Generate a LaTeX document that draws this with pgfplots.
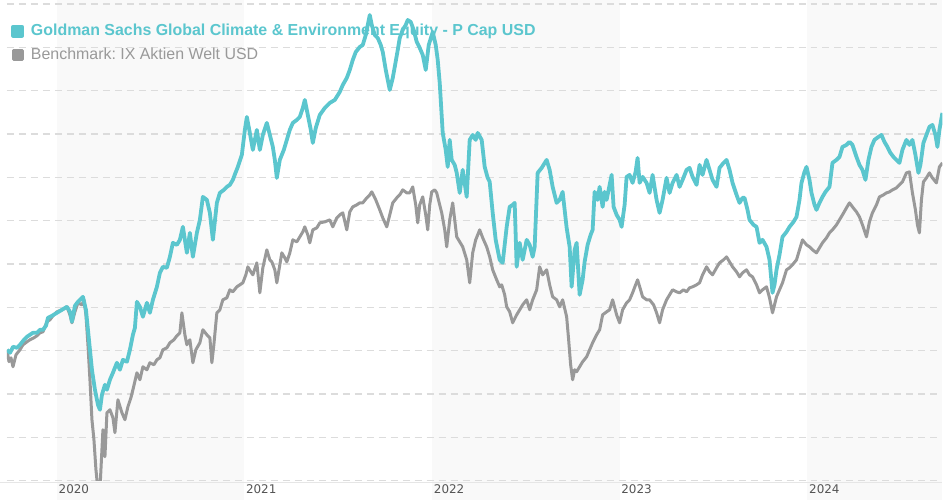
\documentclass[border=0pt]{standalone}
\usepackage{fontspec}
\setmainfont{Liberation Sans}
\newfontfamily\tickfont{DejaVu Sans}
\usepackage{pgfplots}
\pgfplotsset{compat=1.18}
\definecolor{teal1}{HTML}{5BC6CE}
\definecolor{gray1}{HTML}{999999}
\definecolor{band}{HTML}{F9F9F9}
\definecolor{gridc}{HTML}{DCDCDC}
\definecolor{basec}{HTML}{E6E6E6}
\definecolor{tickc}{HTML}{555555}
\begin{document}
\frenchspacing
\begin{tikzpicture}
\begin{axis}[
  name=ax, set layers,
  x=1bp, y=1bp,
  xmin=7, xmax=943, ymin=-481, ymax=-4,
  axis line style={draw=none},
  major tick length=0pt,
  xtick={57,244.5,432.5,620,808},
  xticklabels={\mbox{2020},\mbox{2021},\mbox{2022},\mbox{2023},\mbox{2024}},
  xticklabel style={anchor=north west, inner sep=0pt, xshift=1.5bp, yshift=-4bp, text=tickc, font={\tickfont\fontsize{12}{14}\selectfont}},
  ytick={-481,-437.64,-394.27,-350.91,-307.55,-264.18,-220.82,-177.45,-134.09,-90.73,-47.36,-4},
  yticklabels={},
  ymajorgrids,
  grid style={gridc, line width=1.2bp, dash pattern=on 7bp off 5bp},
  reverse legend,
  legend style={at={(axis description cs:0,1)}, anchor=north west, xshift=4bp, yshift=-19bp,
    draw=none, fill=none, inner sep=0pt, row sep=8bp,
    font={\fontsize{16}{16}\selectfont\frenchspacing},
    nodes={inner sep=0pt, text height=12bp, text depth=4bp},
    /tikz/every odd column/.append style={column sep=7bp}},
  legend cell align=left,
  legend image code/.code={\fill (0bp,-4.5bp) rectangle (9bp,4.5bp);},
]
% year bands
\addplot[draw=none, fill=band, on layer=axis background, forget plot] coordinates {(57,-500) (244.5,-500) (244.5,0) (57,0)} -- cycle;
\addplot[draw=none, fill=band, on layer=axis background, forget plot] coordinates {(432.5,-500) (620,-500) (620,0) (432.5,0)} -- cycle;
\addplot[draw=none, fill=band, on layer=axis background, forget plot] coordinates {(808,-500) (943,-500) (943,0) (808,0)} -- cycle;
% base line
\addplot[basec, line width=1.2bp, on layer=axis background, forget plot] coordinates {(0,-483) (943,-483)};

% benchmark
\addplot[gray1, line width=3bp, line join=round] coordinates {
(7,-350) (9,-362) (11,-358) (13,-367) (16,-355) (20,-350) (23,-345) (27,-342) (30,-340) (34,-338) (37,-336) (40,-333) (43,-332) (47,-322) (50,-320) (53,-316) (57,-312) (62,-310) (67,-307) (70,-315) (72,-323) (75,-312) (78,-303) (82,-305) (84,-300) (86,-315) (88,-345) (90,-380) (92,-420) (94,-440) (96,-470) (98,-490) (100,-490) (102,-450) (103,-430) (105,-457) (107,-413) (110,-410) (113,-418) (115,-433) (118,-400) (122,-413) (125,-420) (128,-407) (131,-398) (133,-390) (137,-373) (140,-380) (143,-367) (147,-370) (150,-363) (154,-365) (157,-360) (160,-358) (163,-350) (167,-348) (170,-343) (174,-340) (177,-336) (180,-333) (182,-313) (185,-335) (187,-345) (190,-340) (193,-363) (196,-350) (200,-343) (203,-330) (207,-335) (210,-338) (212,-363) (214,-345) (217,-313) (220,-310) (223,-300) (227,-298) (230,-290) (233,-292) (237,-287) (240,-285) (243,-283) (246,-275) (248,-267) (251,-272) (253,-275) (257,-263) (260,-293) (263,-268) (267,-250) (270,-260) (272,-262) (275,-270) (277,-283) (280,-265) (282,-253) (285,-258) (287,-262) (290,-253) (293,-240) (297,-242) (300,-237) (303,-232) (305,-227) (308,-235) (310,-243) (313,-230) (317,-228) (320,-223) (325,-222) (330,-220) (333,-227) (337,-218) (340,-215) (343,-213) (347,-230) (350,-212) (353,-207) (357,-205) (360,-203) (363,-203) (367,-198) (370,-195) (372,-192) (376,-200) (380,-210) (383,-218) (387,-227) (390,-215) (393,-203) (397,-198) (400,-195) (403,-190) (407,-193) (410,-193) (413,-187) (416,-205) (418,-223) (420,-205) (423,-197) (426,-215) (428,-230) (430,-205) (432,-192) (435,-190) (437,-193) (440,-205) (442,-213) (445,-230) (447,-247) (450,-220) (453,-203) (455,-220) (457,-237) (460,-242) (463,-247) (467,-260) (470,-283) (473,-253) (476,-240) (480,-230) (483,-238) (487,-247) (490,-257) (493,-270) (497,-280) (500,-287) (502,-285) (505,-295) (507,-307) (510,-312) (513,-323) (517,-315) (520,-310) (523,-305) (527,-300) (530,-310) (533,-300) (537,-290) (540,-267) (543,-275) (547,-270) (550,-285) (553,-297) (557,-300) (560,-307) (563,-300) (567,-317) (569,-340) (571,-365) (573,-380) (575,-370) (577,-372) (580,-367) (583,-362) (587,-357) (590,-350) (593,-343) (597,-335) (600,-330) (603,-315) (607,-312) (610,-310) (613,-300) (617,-315) (620,-323) (623,-310) (627,-303) (630,-300) (633,-293) (636,-285) (638,-280) (641,-290) (643,-297) (647,-300) (650,-300) (654,-305) (657,-313) (660,-323) (663,-310) (667,-300) (670,-295) (673,-290) (677,-292) (680,-293) (684,-290) (687,-292) (690,-288) (693,-287) (697,-285) (700,-283) (703,-275) (707,-267) (710,-272) (713,-275) (717,-268) (720,-263) (724,-260) (727,-257) (730,-262) (733,-267) (737,-272) (740,-277) (743,-273) (747,-270) (750,-275) (753,-277) (757,-285) (760,-293) (763,-290) (767,-287) (770,-298) (773,-313) (775,-305) (777,-297) (780,-290) (783,-283) (787,-270) (790,-268) (793,-265) (797,-260) (800,-250) (803,-240) (807,-245) (810,-247) (813,-250) (817,-253) (820,-248) (823,-243) (827,-238) (830,-233) (833,-230) (837,-225) (840,-220) (843,-215) (847,-208) (850,-203) (853,-207) (857,-212) (860,-217) (863,-225) (867,-237) (870,-222) (873,-213) (877,-205) (880,-197) (884,-195) (887,-193) (890,-192) (893,-190) (897,-188) (900,-185) (903,-182) (907,-173) (910,-172) (913,-193) (916,-210) (918,-225) (920,-233) (922,-200) (924,-182) (927,-178) (930,-173) (933,-178) (937,-183) (940,-167) (943,-163)
};
\addlegendentry{\textcolor{gray1}{Benchmark: IX Aktien Welt USD}}

% fund
\addplot[teal1, line width=3.8bp, line join=round] coordinates {
(7,-350) (10,-353) (13,-347) (17,-348) (20,-345) (24,-340) (27,-337) (30,-335) (33,-333) (37,-333) (40,-330) (43,-330) (46,-326) (48,-318) (52,-316) (57,-313) (62,-310) (67,-307) (70,-312) (72,-322) (75,-306) (78,-302) (83,-297) (86,-310) (88,-330) (90,-350) (92,-370) (95,-390) (98,-405) (100,-410) (102,-395) (105,-385) (107,-390) (110,-380) (113,-373) (117,-363) (120,-370) (123,-360) (127,-362) (130,-350) (133,-335) (135,-328) (137,-302) (140,-307) (143,-317) (147,-303) (150,-313) (153,-300) (157,-287) (160,-273) (163,-267) (167,-268) (170,-257) (173,-243) (177,-245) (180,-240) (183,-227) (187,-253) (190,-233) (193,-257) (197,-233) (200,-220) (203,-197) (207,-200) (210,-213) (213,-240) (217,-203) (220,-193) (224,-190) (227,-187) (230,-185) (233,-180) (236,-172) (238,-167) (242,-155) (245,-130) (247,-117) (250,-133) (253,-150) (257,-130) (260,-150) (263,-135) (267,-123) (270,-135) (273,-147) (275,-160) (277,-178) (280,-160) (284,-150) (287,-140) (290,-130) (293,-123) (297,-120) (300,-117) (303,-108) (305,-100) (308,-115) (311,-130) (313,-143) (316,-128) (320,-115) (325,-108) (330,-103) (335,-100) (340,-92) (343,-85) (347,-78) (350,-70) (353,-60) (356,-52) (360,-47) (363,-45) (366,-35) (368,-25) (370,-15) (372,-25) (375,-35) (378,-38) (381,-45) (383,-52) (386,-70) (388,-80) (390,-90) (393,-78) (395,-67) (398,-50) (400,-38) (403,-30) (406,-25) (408,-20) (411,-22) (414,-30) (417,-42) (420,-48) (423,-55) (426,-70) (429,-45) (433,-32) (436,-45) (438,-60) (440,-83) (443,-133) (446,-150) (448,-167) (450,-140) (452,-160) (455,-165) (457,-173) (460,-193) (463,-170) (467,-197) (470,-140) (473,-135) (476,-140) (478,-133) (482,-140) (485,-167) (488,-178) (490,-182) (493,-213) (496,-240) (500,-260) (503,-263) (507,-227) (510,-207) (513,-205) (515,-203) (517,-267) (520,-243) (523,-260) (527,-240) (530,-245) (533,-257) (535,-247) (538,-173) (542,-168) (547,-160) (550,-170) (553,-187) (557,-203) (560,-200) (563,-192) (567,-228) (570,-247) (572,-287) (575,-250) (577,-243) (580,-295) (583,-280) (585,-262) (588,-245) (591,-235) (593,-230) (595,-192) (598,-200) (600,-187) (603,-207) (605,-192) (607,-200) (610,-185) (612,-175) (614,-207) (617,-215) (620,-220) (622,-227) (625,-205) (627,-177) (630,-175) (633,-183) (636,-172) (638,-158) (640,-183) (643,-177) (647,-183) (650,-193) (653,-175) (657,-200) (660,-213) (663,-200) (667,-178) (670,-193) (673,-183) (677,-175) (680,-187) (683,-180) (687,-170) (690,-168) (693,-177) (697,-185) (700,-165) (703,-175) (707,-160) (710,-170) (713,-180) (717,-187) (720,-168) (724,-163) (727,-160) (730,-170) (733,-183) (737,-195) (740,-203) (743,-198) (745,-198) (748,-210) (750,-220) (754,-225) (757,-227) (760,-243) (763,-240) (767,-247) (770,-260) (773,-293) (775,-285) (777,-270) (780,-255) (783,-237) (787,-232) (790,-227) (794,-222) (797,-217) (800,-200) (802,-183) (805,-172) (807,-167) (810,-180) (812,-193) (815,-205) (817,-210) (820,-203) (823,-197) (826,-192) (830,-187) (833,-163) (837,-160) (840,-157) (843,-147) (847,-145) (850,-142) (853,-145) (857,-157) (860,-165) (863,-170) (866,-180) (869,-160) (872,-147) (875,-140) (879,-137) (882,-135) (885,-142) (888,-147) (891,-153) (894,-157) (897,-160) (900,-163) (903,-150) (907,-140) (910,-145) (913,-140) (916,-155) (919,-173) (921,-165) (924,-143) (927,-135) (930,-127) (933,-125) (936,-135) (938,-147) (940,-130) (943,-113)
};
\addlegendentry{\textcolor{teal1}{\bfseries Goldman Sachs Global Climate \& Environment Equity - P Cap USD}}
\end{axis}
\path ([shift={(-7bp,-19bp)}]ax.south west) rectangle ([shift={(0bp,4bp)}]ax.north east);
\end{tikzpicture}
\end{document}
